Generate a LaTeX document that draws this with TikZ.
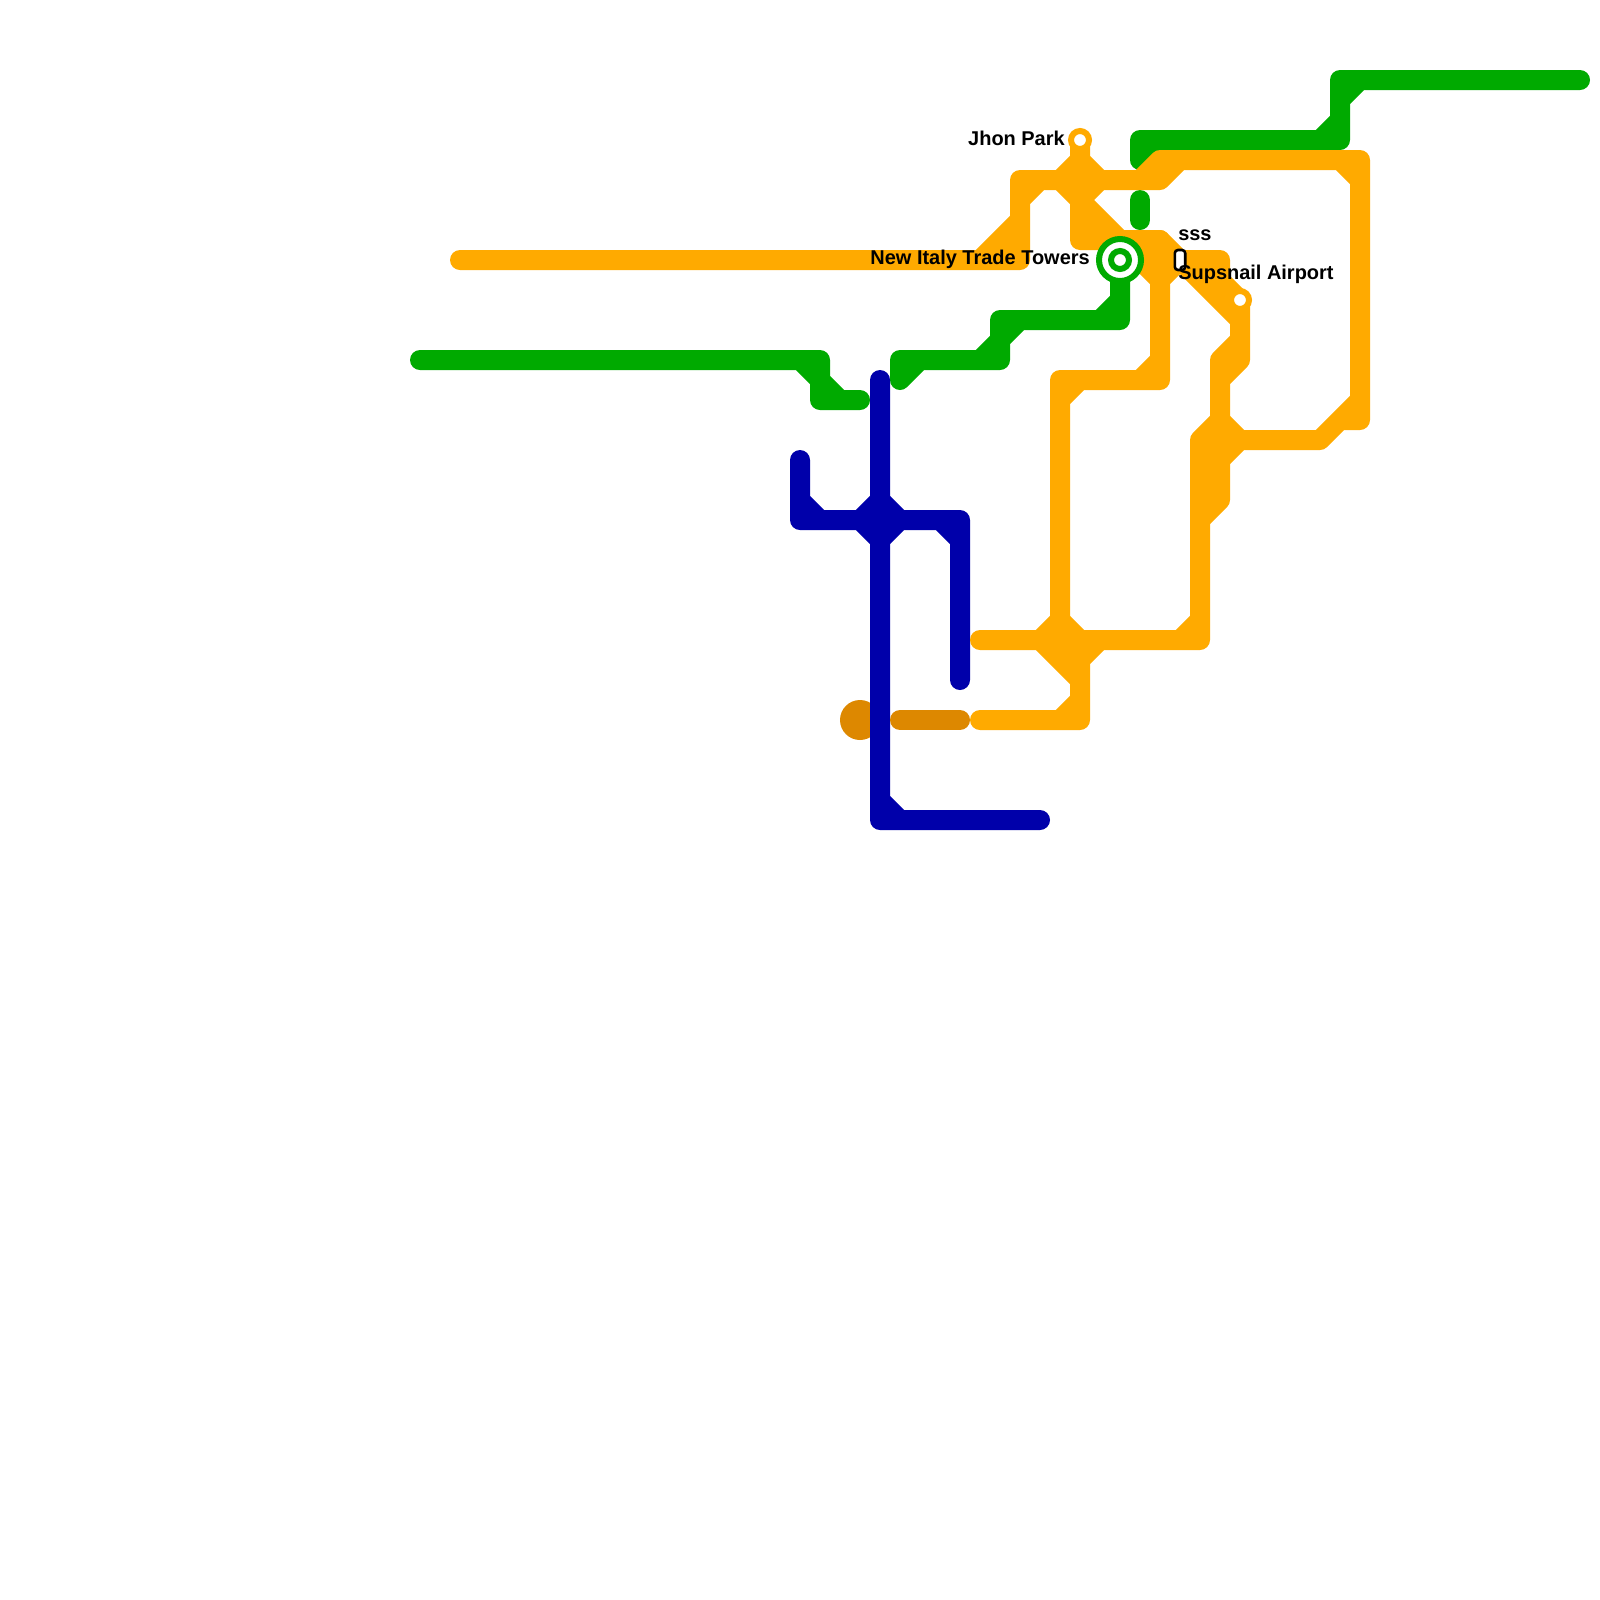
\documentclass[tikz,border=0pt]{standalone}
\usepackage{fontspec}
\setmainfont{Liberation Sans}
\definecolor{lineorange}{HTML}{FFAA00}
\definecolor{linegreen}{HTML}{00AA00}
\definecolor{lineblue}{HTML}{0000AA}
\definecolor{linebrown}{HTML}{DD8800}

\begin{document}
\begin{tikzpicture}[
  x=5mm, y=-5mm,
  font=\fontsize{14.2}{16}\selectfont\bfseries,
  track/.style={line width=5mm, line cap=round, line join=round},
  stop/.style={circle, draw=#1, fill=white, line width=1.5mm, minimum size=4.5mm, inner sep=0pt, outer sep=0pt},
  marker/.style={rectangle, draw=black, fill=white, rounded corners=0.8mm, line width=0.65mm, minimum width=2.6mm, minimum height=5mm, inner sep=0pt},
  maplabel/.style={inner sep=0pt, text=black}
]
\useasboundingbox (0,0) rectangle (80,80);

% Green line
\draw[track, linegreen] (21,18) -- (41,18) -- (41,20) -- (43,20) (40,18) -- (41,19) -- (42,20);
\draw[track, linegreen] (45,19) -- (45,18) -- (50,18) -- (50,16) -- (56,16) -- (56,13)
  (45,19) -- (46,18) (49,18) -- (50,17) (50,17) -- (51,16) (55,16) -- (56,15);
\draw[track, linegreen] (57,8) -- (57,7) -- (67,7) -- (67,4) -- (79,4)
  (57,8) -- (58,7) (66,7) -- (67,6) (67,5) -- (68,4);
\draw[track, linegreen] (57,10) -- (57,11);

% Blue line
\draw[track, lineblue] (44,19) -- (44,41) -- (52,41) (44,40) -- (45,41);
\draw[track, lineblue] (40,23) -- (40,26) -- (48,26) -- (48,34)
  (40,25) -- (41,26) (47,26) -- (48,27) (43,26) -- (44,25) -- (45,26) -- (44,27) -- cycle;

% Brown line
\node[circle, fill=linebrown, minimum size=10mm, inner sep=0pt] (brownstop) at (43,36) {};
\draw[track, linebrown] (45,36) -- (48,36);
\draw[track, lineblue] (44,34) -- (44,38);

% Orange line
\draw[track, lineorange] (23,13) -- (51,13) -- (51,9) -- (58,9) -- (58,8) -- (68,8) -- (68,21) -- (67,21) -- (66,22) -- (60,22) -- (60,32) -- (49,32)
  (49,13) -- (51,11) (50,13) -- (51,12) (51,10) -- (52,9) (57,9) -- (58,8) (58,9) -- (59,8) (67,8) -- (68,9) (68,20) -- (67,21) (59,32) -- (60,31)
  (60,22) -- (61,21) -- (62,22) -- (61,23) -- cycle;
\draw[track, lineorange] (54,7) -- (54,12) -- (58,12) -- (62,16) -- (62,18) -- (61,18) -- (61,25) -- (60,25)
  (53,9) -- (54,8) -- (55,9) -- (54,10) -- cycle (54,10) -- (56,12) (54,11) -- (55,12) (62,17) -- (61,18) (62,18) -- (61,19) (61,25) -- (60,26);
\draw[track, lineorange] (56,13) -- (61,13) -- (61,14) -- (62,15) -- (62,16) (60,13) -- (61,14);
\draw[track, lineorange] (58,12) -- (58,19) -- (53,19) -- (53,32)
  (57,13) -- (58,14) -- (59,13) (57,19) -- (58,18) (53,20) -- (54,19);
\draw[track, lineorange] (52,32) -- (54,34) (54,32) -- (54,36) -- (49,36)
  (52,32) -- (53,31) -- (54,32) -- (53,33) -- cycle (54,33) -- (55,32) (54,35) -- (53,36);

% Stations
\node[stop=lineorange] (jhon) at (54,7) {};
\node[stop=lineorange] (supsnail) at (62,15) {};
\node[stop=linegreen, minimum size=10.5mm] (italy) at (56,13) {};
\node[stop=linegreen] (italycore) at (56,13) {};
\node[marker] (sssbox) at (59,13) {};

% Labels
\node[maplabel, anchor=base east] (jhonlabel) at (53.25,7.25) {Jhon Park};
\node[maplabel, anchor=base east] (italylabel) at (54.5,13.2) {New Italy Trade Towers};
\node[maplabel, anchor=base west] (ssslabel) at (58.9,12) {sss};
\node[maplabel, anchor=base west] (supsnaillabel) at (58.9,13.95) {Supsnail Airport};

\end{tikzpicture}
\end{document}
